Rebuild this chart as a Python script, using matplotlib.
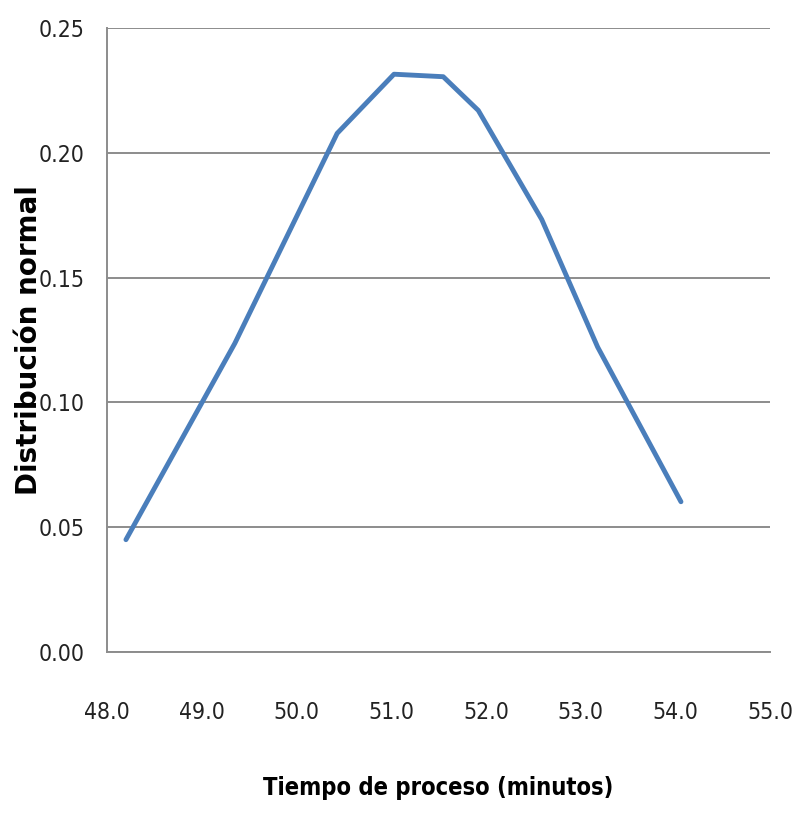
import matplotlib
matplotlib.use("Agg")
import matplotlib.pyplot as plt
from matplotlib.ticker import FormatStrFormatter
from matplotlib import font_manager

tiempo = [48.2, 49.35, 50.43, 51.03, 51.55, 51.92, 52.59, 53.18, 54.06]
densidad = [0.045, 0.1237, 0.2078, 0.2315, 0.2305, 0.217, 0.1733, 0.1222, 0.0602]
x_ticks = [48.0, 49.0, 50.0, 51.0, 52.0, 53.0, 54.0, 55.0]
y_ticks = [0.00, 0.05, 0.10, 0.15, 0.20, 0.25]

cond = [f for f in font_manager.fontManager.ttflist
        if "ondensed" in str(f.stretch) or "arrow" in f.name or "ondensed" in f.name]
narrow_family = cond[0].name if cond else "Liberation Sans"
narrow_stretch = cond[0].stretch if cond else "normal"

fig = plt.figure(figsize=(7.94, 8.15), dpi=100)
ax = fig.add_axes([107 / 794, 0.2, (770 - 107) / 794, 0.7656])

ax.plot(tiempo, densidad, color="#4A7EBB", linewidth=3.5, solid_capstyle="round",
        solid_joinstyle="round")

ax.set_xlim(48.0, 55.0)
ax.set_ylim(0.0, 0.25)
ax.set_xticks(x_ticks)
ax.set_yticks(y_ticks)
ax.xaxis.set_major_formatter(FormatStrFormatter("%.1f"))
ax.yaxis.set_major_formatter(FormatStrFormatter("%.2f"))

ax.grid(axis="y", color="#8c8c8c", linewidth=1.4)
ax.set_axisbelow(True)
for s in ["top", "right"]:
    ax.spines[s].set_visible(False)
for s in ["left", "bottom"]:
    ax.spines[s].set_color("#8c8c8c")
    ax.spines[s].set_linewidth(1.4)

ax.tick_params(axis="both", length=0)
ax.tick_params(axis="x", pad=35)
ax.tick_params(axis="y", pad=16)
for lab in ax.get_xticklabels() + ax.get_yticklabels():
    lab.set_fontfamily(narrow_family)
    lab.set_fontstretch(narrow_stretch)
    lab.set_fontsize(16.5)
    lab.set_color("#222222")

ax.set_xlabel("Tiempo de proceso (minutos)", fontfamily=narrow_family,
              fontstretch=narrow_stretch, fontsize=17,
              fontweight="bold", labelpad=38)
ax.set_ylabel("Distribución normal", fontfamily="DejaVu Sans", fontsize=20,
              fontweight="bold")
ax.yaxis.set_label_coords(-0.097, 0.5)

fig.savefig("out.png", dpi=100, facecolor="white")
